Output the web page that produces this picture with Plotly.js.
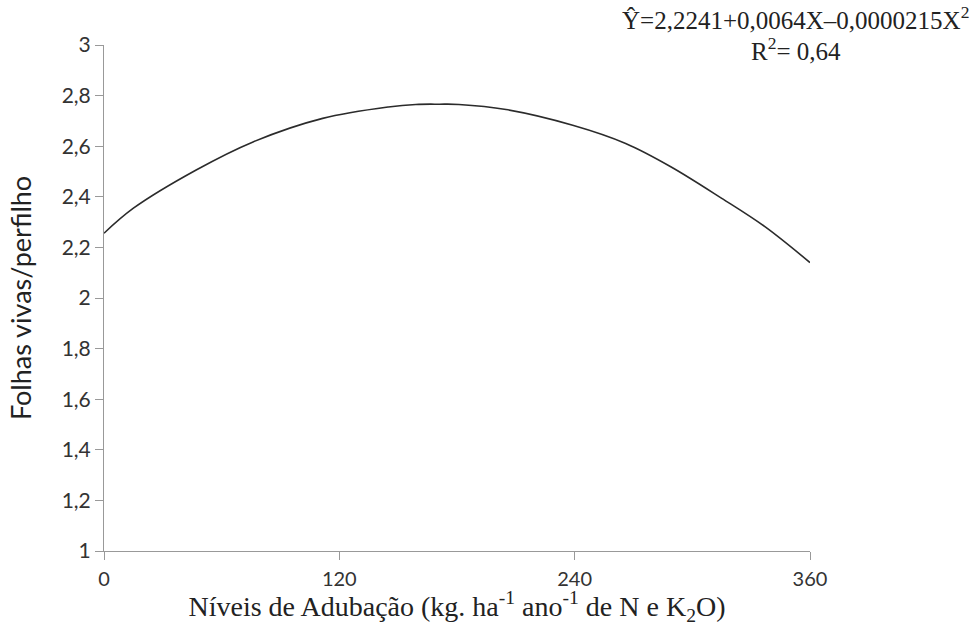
<!DOCTYPE html>
<html>
<head>
<meta charset="utf-8">
<script src="https://cdn.plot.ly/plotly-3.0.1.min.js"></script>
<style>html,body{margin:0;padding:0;background:#fff;}#chart{width:979px;height:626px;}</style>
</head>
<body>
<div id="chart"></div>
<script>
const doses = [0, 15, 47, 76, 111.5, 145, 159, 171, 181, 205, 239, 266, 289, 315, 337, 360];
const folhas = [2.256, 2.355, 2.506, 2.617, 2.710, 2.755, 2.765, 2.766, 2.765, 2.745, 2.683, 2.611, 2.519, 2.394, 2.282, 2.140];
const xTicks = [0, 120, 240, 360];
const xTickLabels = ['0', '120', '240', '360'];
const equationText = 'Ŷ=2,2241+0,0064X–0,0000215X<sup>2</sup>';
const r2Text = 'R<sup>2</sup>= 0,64';

const trace = {
  x: doses, y: folhas, type: 'scatter', mode: 'lines',
  line: {color: '#2b2b2b', width: 1.6, shape: 'spline', smoothing: 1},
  hoverinfo: 'skip'
};

const serif = '"Liberation Serif", "Times New Roman", serif';
const sans = 'Lato, "Open Sans", sans-serif';

const layout = {
  width: 979, height: 626,
  margin: {l: 104, r: 169, t: 45, b: 75},
  paper_bgcolor: '#fff', plot_bgcolor: '#fff',
  separators: ',.',
  showlegend: false,
  font: {family: sans, color: '#333'},
  xaxis: {
    range: [0, 360], tickvals: xTicks, ticktext: xTickLabels,
    showgrid: false, zeroline: false, showline: true, linecolor: '#999', linewidth: 1,
    ticks: 'outside', ticklen: 8, tickcolor: '#999',
    tickfont: {family: sans, size: 20, color: '#333'},
    ticklabelstandoff: 2,
    automargin: false,
    title: {text: 'Níveis de Adubação (kg. ha<sup>-1</sup> ano<sup>-1</sup> de N e K<sub>2</sub>O)',
            font: {family: serif, size: 28, color: '#222'}, standoff: 0}
  },
  yaxis: {
    range: [1, 3], tick0: 1, dtick: 0.2,
    showgrid: false, zeroline: false, showline: true, linecolor: '#999', linewidth: 1,
    ticks: 'outside', ticklen: 8, tickcolor: '#999',
    tickfont: {family: sans, size: 21, color: '#333'},
    automargin: false,
    title: {text: 'Folhas vivas/perfilho', font: {family: sans, size: 27, color: '#222'}, standoff: 22}
  },
  annotations: [
    {text: equationText, xref: 'paper', yref: 'paper', x: 0.980, y: 1.054, xanchor: 'center', yanchor: 'middle', showarrow: false,
     font: {family: serif, size: 25, color: '#222'}},
    {text: r2Text, xref: 'paper', yref: 'paper', x: 0.980, y: 0.992, xanchor: 'center', yanchor: 'middle', showarrow: false,
     font: {family: serif, size: 25, color: '#222'}}
  ]
};

Plotly.newPlot('chart', [trace], layout, {displayModeBar: false, staticPlot: true});
</script>
</body>
</html>
